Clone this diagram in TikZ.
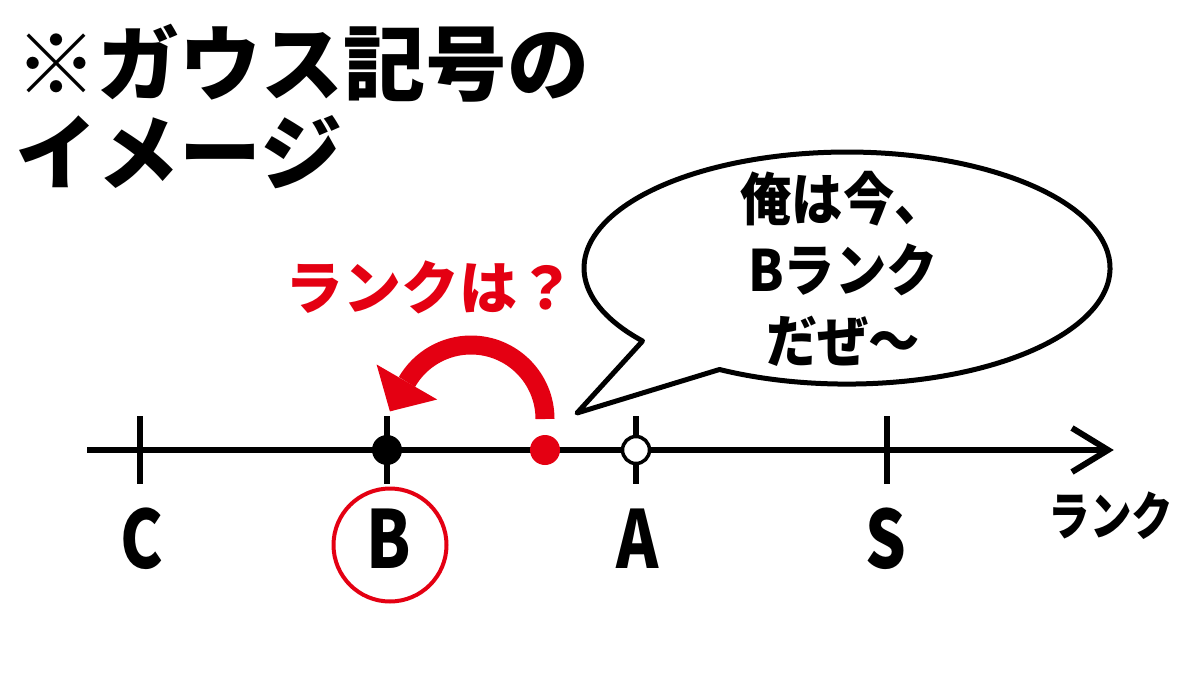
\documentclass[tikz,border=0pt]{standalone}
\usepackage{fontspec}
\setmainfont{Noto Sans CJK JP}
\newfontfamily\condfont{Noto Sans CJK JP}[FakeStretch=0.8]
\newfontfamily\semifont{Noto Sans CJK JP}[FakeStretch=0.9]
\definecolor{rred}{RGB}{228,0,18}
\begin{document}
\begin{tikzpicture}[x=1pt,y=-1pt,
  every node/.style={inner sep=0pt, outer sep=0pt},
  titletxt/.style={font=\fontsize{82}{82}\selectfont\bfseries, anchor=west},
  axlbl/.style={font=\condfont\fontsize{80}{80}\selectfont\bfseries},
  ticks/.style={line width=6pt},
  axisline/.style={line width=6pt},
  bubble/.style={draw=black, line width=5pt, fill=white, line join=round},
  dot/.style={circle, inner sep=0pt, minimum size=30pt}
]
\useasboundingbox (0,0) rectangle (1200,675);
\fill[white] (0,0) rectangle (1200,675);

% title
\node[titletxt] (t1) at (16,63) {※ガウス記号の};
\node[titletxt] (t2) at (16,152) {イメージ};

% speech bubble
\coordinate (bubA) at (642.6,341);
\coordinate (bubTip) at (577,413);
\coordinate (bubB) at (719.5,369.5);
\draw[bubble] (bubA) -- (bubTip) -- (bubB)
  arc[start angle=119, end angle=-219, x radius=263, y radius=116] -- cycle;
\node[font=\semifont\fontsize{57}{71}\selectfont\bfseries, align=center] (bt) at (843,269) {俺は今、\\Bランク\\だぜ～};

% red question
\node[font=\fontsize{58}{58}\selectfont\bfseries, text=rred] (q) at (430,287) {ランクは？};

% axis
\coordinate (axL) at (87,450);
\coordinate (axR) at (1108,450);
\coordinate (chevT) at (1072,428);
\coordinate (chevB) at (1072,472);
\draw[axisline] (axL) -- (axR);
\draw[axisline, line join=miter] (chevT) -- (axR) -- (chevB);

% ticks
\foreach \x/\n in {140/C,387/B,636/A,887/S}{
  \coordinate (tt\n) at (\x,416);
  \coordinate (tb\n) at (\x,484);
  \draw[ticks] (tt\n) -- (tb\n);
}

% labels
\node[axlbl] (lC) at (142,539) {C};
\node[axlbl] (lB) at (389,539) {B};
\node[axlbl] (lA) at (638,539) {A};
\node[axlbl] (lS) at (886,539) {S};
\node[circle, draw=rred, line width=4pt, minimum size=113pt] (circB) at (390,545) {};
\node[font=\condfont\fontsize{52}{52}\selectfont\bfseries] (rk) at (1111,516) {ランク};

% dots
\node[dot, fill=black] (dB) at (387,450) {};
\node[dot, fill=white, draw=black, line width=3.5pt, minimum size=27pt] (dA) at (636,450) {};
\node[dot, fill=rred] (dR) at (545,450) {};

% red curved arrow from red dot toward B
\coordinate (arcS) at (545,419);
\draw[rred, line width=19pt] (arcS) arc[start angle=0, end angle=-150, radius=74];
\coordinate (ahL) at (376.6,364.5);
\coordinate (ahR) at (437.2,399.5);
\coordinate (ahT) at (389.9,411.4);
\fill[rred] (ahL) -- (ahR) -- (ahT) -- cycle;
\end{tikzpicture}
\end{document}
